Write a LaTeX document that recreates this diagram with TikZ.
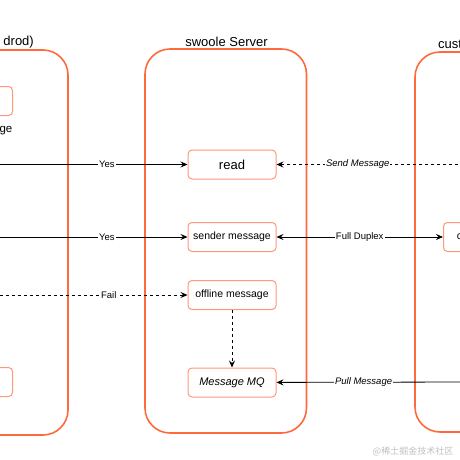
\documentclass[tikz,border=0pt]{standalone}
\usepackage{fontspec}
\setmainfont{Liberation Sans}
\newfontfamily\cjkfont{Noto Sans CJK SC}
\usetikzlibrary{arrows.meta, positioning}
\definecolor{laneorange}{HTML}{FF6A3D}
\definecolor{boxorange}{HTML}{FF977A}

\begin{document}
\begin{tikzpicture}[x=1pt, y=-1pt,
    lane/.style={draw=laneorange, line width=1.6pt, rounded corners=25pt},
    msgbox/.style={draw=boxorange, line width=1pt, rounded corners=4pt, fill=white,
        minimum width=88pt, minimum height=29pt, inner sep=1pt,
        font=\fontsize{10.5}{12}\selectfont},
    title/.style={font=\fontsize{13}{15}\selectfont, inner sep=0pt},
    lbl/.style={fill=white, inner sep=1pt, font=\fontsize{9.5}{11}\selectfont},
    link/.style={-{Stealth[length=7pt, width=6pt, inset=2.5pt]}, line width=0.8pt}]

    \useasboundingbox (0, 0) rectangle (460, 460);
    \clip (0, 0) rectangle (460, 460);

    % lanes
    \draw[lane] (-120, 50) rectangle (68, 435);
    \draw[lane] (145, 49) rectangle (306.5, 433);
    \draw[lane] (415, 52) rectangle (600, 432);

    \node[title, anchor=east] (clienttitle) at (34, 42) {drod)};
    \node[title] (servertitle) at (226.5, 42) {swoole Server};
    \node[title, anchor=west] (custtitle) at (438, 44) {cust};

    % left side
    \node[msgbox, anchor=east] (clientbox) at (13, 101) {};
    \node[anchor=east, inner sep=0pt, font=\fontsize{11.5}{13}\selectfont] (clienttext) at (12.5, 131) {ge};
    \node[msgbox, anchor=east] (clientmq) at (13, 382) {};

    % server
    \node[msgbox, font=\fontsize{13}{15}\selectfont] (read) at (232, 164.5) {read};
    \node[msgbox] (sender) at (232, 237) {sender message};
    \node[msgbox] (offline) at (232, 295) {offline message};
    \node[msgbox, font=\fontsize{11}{13}\itshape] (mq) at (232, 382.5) {Message MQ};

    % right side
    \node[msgbox, anchor=west, minimum width=32pt] (custbox) at (443, 237) {c};

    \coordinate (inyes1) at (0, 164.5);
    \coordinate (inyes2) at (0, 237);
    \coordinate (infail) at (0, 295);
    \coordinate (insend) at (470, 164.5);
    \coordinate (inpull) at (470, 382);

    \draw[link] (inyes1) -- node[lbl, pos=0.57] {Yes} (read);
    \draw[link] (inyes2) -- node[lbl, pos=0.57] {Yes} (sender);
    \draw[link, dashed] (infail) -- node[lbl, pos=0.58] {Fail} (offline);
    \draw[link, dashed] (insend) -- node[lbl, pos=0.58, font=\fontsize{9.5}{11}\itshape] {Send Message} (read);
    \draw[link, {Stealth[length=7pt, width=6pt, inset=2.5pt]}-{Stealth[length=7pt, width=6pt, inset=2.5pt]}]
        (sender) -- node[lbl] {Full Duplex} (custbox);
    \draw[link] (inpull) -- node[lbl, pos=0.55, font=\fontsize{9.5}{11}\itshape] {Pull Message} (mq);
    \draw[link, dashed] (offline) -- (mq);

    \node[text=black!25, font=\fontsize{9}{10}\cjkfont] (mark) at (413, 451) {@稀土掘金技术社区};

\end{tikzpicture}
\end{document}
